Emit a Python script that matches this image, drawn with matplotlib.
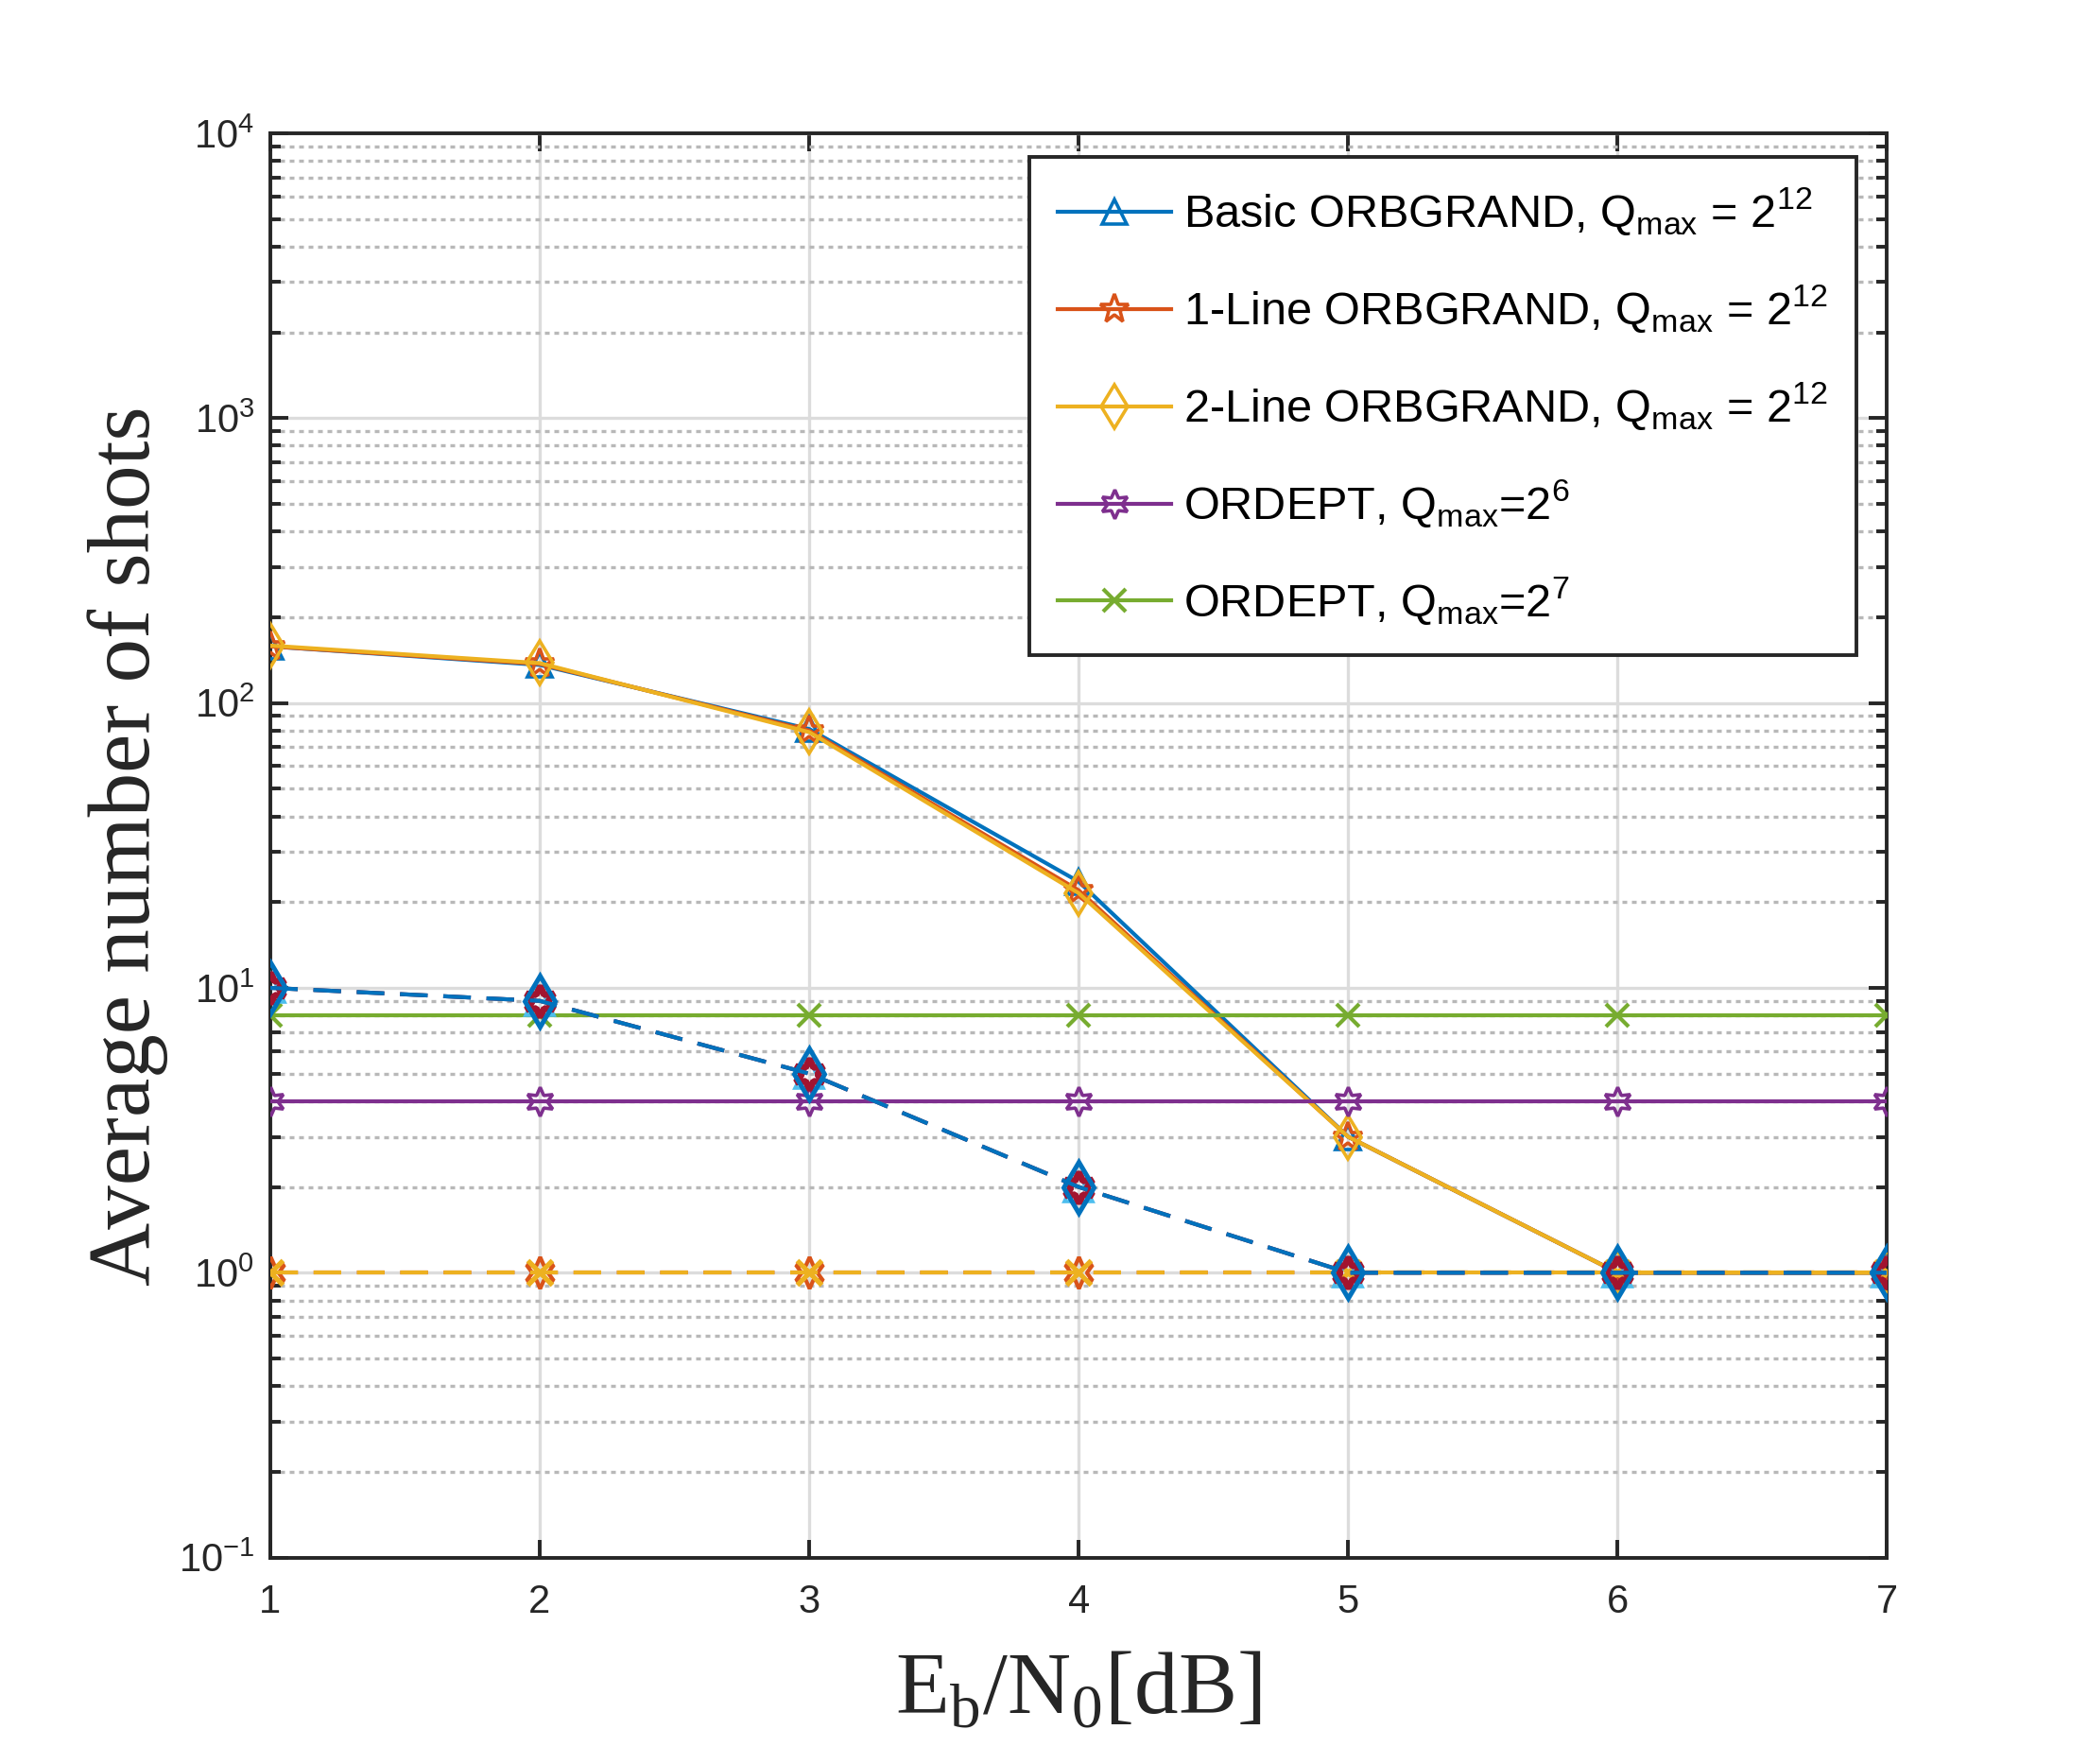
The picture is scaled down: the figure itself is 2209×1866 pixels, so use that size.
import matplotlib
matplotlib.use("Agg")
import matplotlib.pyplot as plt
from matplotlib.ticker import LogLocator, NullFormatter, FixedLocator

# ---- data ----
ebn0 = [1, 2, 3, 4, 5, 6, 7]
basic = [158, 136, 81, 23.6, 3.0, 1.0, 1.0]
line1 = [158, 137, 80, 22.0, 3.0, 1.0, 1.0]
line2 = [159, 138, 79, 21.5, 3.0, 1.0, 1.0]
ordept6 = [4, 4, 4, 4, 4, 4, 4]
ordept7 = [8, 8, 8, 8, 8, 8, 8]
dashed_a = [10, 9, 5, 2, 1, 1, 1]
dashed_b = [1, 1, 1, 1, 1, 1, 1]

labels = [r'Basic ORBGRAND, Q$_\mathregular{max}$ = 2$^\mathregular{12}$',
          r'1-Line ORBGRAND, Q$_\mathregular{max}$ = 2$^\mathregular{12}$',
          r'2-Line ORBGRAND, Q$_\mathregular{max}$ = 2$^\mathregular{12}$',
          r'ORDEPT, Q$_\mathregular{max}$=2$^\mathregular{6}$',
          r'ORDEPT, Q$_\mathregular{max}$=2$^\mathregular{7}$']
xticks = [1, 2, 3, 4, 5, 6, 7]

c_blue = (0, 0.447, 0.741)
c_orange = (0.850, 0.325, 0.098)
c_yellow = (0.929, 0.694, 0.125)
c_purple = (0.494, 0.184, 0.556)
c_green = (0.466, 0.674, 0.188)
c_lblue = (0.301, 0.745, 0.933)
c_dred = (0.635, 0.078, 0.184)
hexagram = (6, 1, 0)

plt.rcParams['font.family'] = ['Liberation Sans', 'DejaVu Sans']
plt.rcParams['mathtext.fontset'] = 'custom'
plt.rcParams['mathtext.rm'] = 'Liberation Sans'

fig = plt.figure(figsize=(22.09, 18.66), dpi=100)
ax = fig.add_axes([0.1294, 0.117, 0.7744, 0.8075])

lw = 3.0
ms = 19
mew = 2.6
dash = (7, 4)

# legend series (solid)
ax.plot(ebn0, basic, '-', color=c_blue, marker='^', ms=ms, mew=mew, mfc='none', lw=lw, label=labels[0], zorder=4)
ax.plot(ebn0, line1, '-', color=c_orange, marker='*', ms=ms + 4, mew=mew, mfc='none', lw=lw, label=labels[1], zorder=4.1)
ax.plot(ebn0, line2, '-', color=c_yellow, marker='d', ms=ms + 4, mew=mew, mfc='none', lw=lw, label=labels[2], zorder=4.2)
ax.plot(ebn0, ordept6, '-', color=c_purple, marker=hexagram, ms=ms + 3, mew=mew, mfc='none', lw=lw, label=labels[3], zorder=4.3)
ax.plot(ebn0, ordept7, '-', color=c_green, marker='x', ms=ms - 2, mew=mew + 0.4, lw=lw, label=labels[4], zorder=4.4)

# hidden dashed series (drawn on top)
ax.plot(ebn0, dashed_b, color=c_orange, ls='--', dashes=dash, marker=hexagram, ms=ms + 5, mew=mew + 0.4,
        mfc='none', lw=lw, zorder=5)
ax.plot(ebn0, dashed_b, color=c_yellow, ls='--', dashes=dash, marker='x', ms=ms, mew=mew + 1.2, lw=lw, zorder=5.1)
ax.plot(ebn0[4:], dashed_b[4:], '-', color=c_yellow, lw=lw, zorder=5.2)
ax.plot(ebn0, dashed_a, color=c_lblue, ls='--', dashes=dash, marker='^', ms=ms + 2, mew=mew, mfc='none', lw=lw, zorder=5.3)
ax.plot(ebn0, dashed_a, color=c_dred, ls='--', dashes=dash, marker=hexagram, ms=ms + 5, mew=mew + 2.4,
        mfc='none', lw=lw, zorder=5.4)
ax.plot(ebn0, dashed_a, color=c_blue, ls='--', dashes=dash, marker='d', ms=ms + 9, mew=mew + 1.0, mfc='none',
        lw=lw, zorder=5.5)

ax.set_yscale('log')
ax.set_ylim(1e-1, 1e4)
ax.set_xlim(1, 7)
ax.xaxis.set_major_locator(FixedLocator(xticks))
ax.yaxis.set_major_locator(LogLocator(base=10, numticks=10))
ax.yaxis.set_minor_locator(LogLocator(base=10, subs=range(2, 10), numticks=100))
ax.yaxis.set_minor_formatter(NullFormatter())

ax.grid(which='major', axis='both', color='#dcdcdc', lw=2.4, ls='-', zorder=0)
ax.grid(which='minor', axis='y', color='#b8b8b8', lw=2.4, ls=(0, (1.5, 1.5)), zorder=0)
ax.set_axisbelow(True)

for s in ax.spines.values():
    s.set_linewidth(2.8)
    s.set_color('#262626')
ax.tick_params(which='both', direction='in', top=True, right=True, color='#262626')
ax.tick_params(which='major', length=14, width=2.8, labelsize=30, pad=12, labelcolor='#262626')
ax.tick_params(axis='x', which='major', pad=20)
ax.tick_params(which='minor', length=8, width=2.8)

ax.set_xlabel(r'E$_\mathregular{b}$/N$_\mathregular{0}$[dB]', family='Liberation Serif', fontsize=67,
              color='#262626', labelpad=22)
ax.set_ylabel('Average number of shots', family='Liberation Serif', fontsize=67, color='#262626', labelpad=8)

leg = ax.legend(loc='upper right', bbox_to_anchor=(0.981, 0.983), borderaxespad=0,
                prop={'family': 'Liberation Sans', 'size': 35}, fancybox=False, framealpha=1,
                edgecolor='#262626', handlelength=2.45, handletextpad=0.28, labelspacing=0.97,
                borderpad=0.62, markerscale=1.0)
leg.get_frame().set_linewidth(2.8)

fig.savefig('out.png', dpi=100, facecolor='white')
